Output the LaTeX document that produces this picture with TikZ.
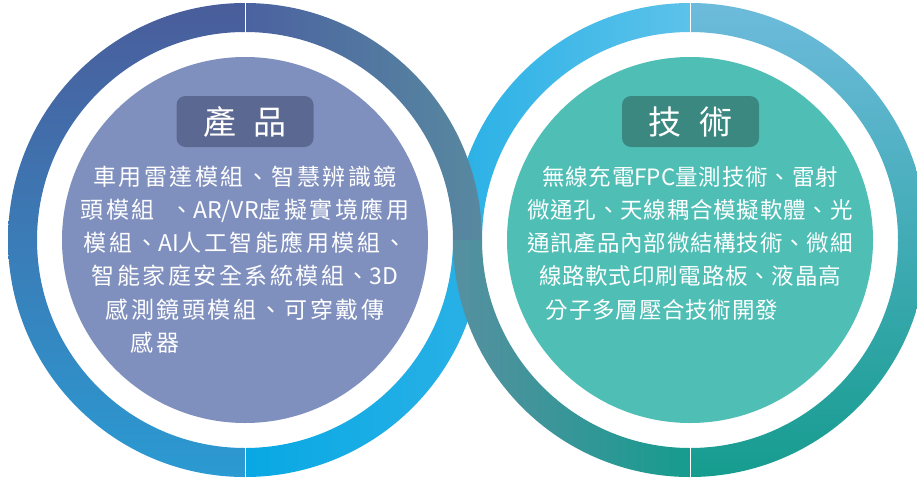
\documentclass[tikz,border=0pt]{standalone}
\usepackage{fontspec}
\newfontfamily\headfont{Noto Sans CJK TC}
\newfontfamily\prodfont[LetterSpace=11]{Noto Sans CJK TC}
\newfontfamily\techfont[LetterSpace=3.5]{Noto Sans CJK TC}
\newcommand\latin[1]{{\headfont #1}}
\definecolor{prodfill}{HTML}{7F8FBE}
\definecolor{prodhead}{HTML}{5B6891}
\definecolor{techfill}{HTML}{4FBFB6}
\definecolor{techhead}{HTML}{3A8880}
\definecolor{ringnavy}{HTML}{4A5D9B}
\definecolor{ringblue}{HTML}{2B9AD2}
\definecolor{ringslate}{HTML}{4B62A0}
\definecolor{ringgrey}{HTML}{5889A0}
\definecolor{ringcyan}{HTML}{08A8E4}
\definecolor{ringsky}{HTML}{2AB1E6}
\definecolor{ringice}{HTML}{5CC2EA}
\definecolor{ringpale}{HTML}{6DBBDC}
\definecolor{ringteal}{HTML}{169C8F}
\definecolor{ringsea}{HTML}{5690A0}
\tikzset{
  sector/.style args={#1:#2}{insert path={(#1:237) arc(#1:#2:237) -- (#2:208) arc(#2:#1:208) -- cycle}}
}

\begin{document}
\begin{tikzpicture}[x=1pt,y=-1pt,
  head/.style={rounded corners=9pt,minimum width=137pt,minimum height=51pt,inner sep=0pt,
    text=white,font=\headfont\fontsize{33}{33}\selectfont},
  line/.style={text=white,anchor=base,inner sep=0pt}]
  \clip (0,0) rectangle (917,479);
  \fill[white] (0,0) rectangle (917,479);
  \begin{scope}[shift={(245,240)}]
    \shade[left color=ringcyan,right color=ringsky,sector=0:90];
  \end{scope}
  \begin{scope}[shift={(690,240)}]
    \shade[left color=ringsky,right color=ringice,sector=180:270];
  \end{scope}
  \begin{scope}[shift={(245,240)}]
    \shade[top color=ringnavy,bottom color=ringblue,sector=90:270];
    \shade[left color=ringslate,right color=ringgrey,sector=270:360];
    \draw[white,line width=0.8pt] (0,-240)--(0,-200) (0,200)--(0,240);
    \fill[prodfill] (0,0) circle(183);
  \end{scope}
  \begin{scope}[shift={(690,240)}]
    \shade[top color=ringpale,bottom color=ringteal,sector=-90:90];
    \shade[left color=ringsea,right color=ringteal,sector=90:180];
    \draw[white,line width=0.8pt] (0,-240)--(0,-200) (0,200)--(0,240);
    \fill[techfill] (0,0) circle(183);
  \end{scope}
  \node[head,fill=prodhead] (prodhead) at (245,121.5) {產\hspace{18pt}品};
  \node[head,fill=techhead] (techhead) at (690.5,121.5) {技\hspace{18pt}術};
  \foreach \x/\txt [count=\i] in {245/車用雷達模組、智慧辨識鏡,245/{頭模組 \ 、\latin{AR/VR}虛擬實境應用},
      245/{模組、\latin{AI}人工智能應用模組、},245/{智能家庭安全系統模組、\latin{3D}},245/感測鏡頭模組、可穿戴傳,155/感器}
    \node[line,font=\prodfont\fontsize{23}{23}\selectfont] (prod\i) at (\x,151.7+33.3*\i) {\txt};
  \foreach \x/\txt [count=\i] in {690/{無線充電\latin{FPC}量測技術、雷射},690/微通孔、天線耦合模擬軟體、光,
      690/通訊產品內部微結構技術、微細,690/線路軟式印刷電路板、液晶高,662/分子多層壓合技術開發}
    \node[line,font=\techfont\fontsize{22.5}{22.5}\selectfont] (tech\i) at (\x,151.7+33.3*\i) {\txt};
\end{tikzpicture}
\end{document}
